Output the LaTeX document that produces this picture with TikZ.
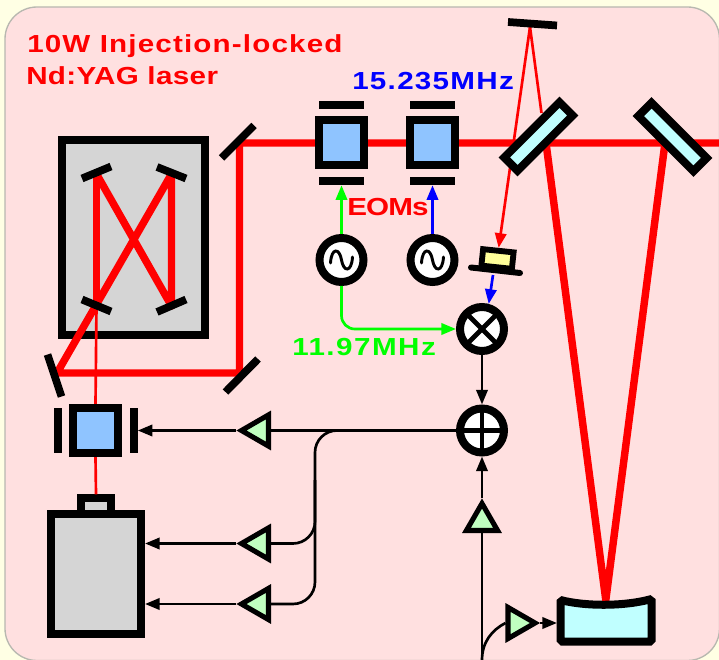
\documentclass[tikz,border=0pt]{standalone}
\usepackage{fontspec}
\setmainfont{Liberation Sans}
\newcommand{\labspaced}[1]{\fontspec[FakeStretch=1.2,LetterSpace=#1]{Liberation Sans Bold}}
\usetikzlibrary{arrows.meta,shapes.geometric}
\definecolor{cream}{HTML}{FFFFE4}
\definecolor{pinkbg}{HTML}{FFE0E0}
\definecolor{edgegray}{HTML}{B8B8B0}
\definecolor{eomblue}{HTML}{8FC4FF}
\definecolor{ampgreen}{HTML}{C0FFC0}
\definecolor{cyanfill}{HTML}{C0FFFF}
\definecolor{boxgray}{HTML}{D5D5D5}
\definecolor{pdyellow}{HTML}{FFFF99}
\definecolor{sigreen}{HTML}{00FF00}
\tikzset{
  x=0.75pt,y=-0.75pt,
  tipbig/.tip={Triangle[length=11pt,width=8.5pt]},
  wire/.style={line width=2pt,draw=black},
  sigarrow/.style={line width=2pt,-tipbig},
  beam/.style={draw=red,line width=5.6pt,line join=round},
  ray/.style={draw=red,line width=2pt},
  mirrorbar/.style={draw=black,line width=5.8pt},
  eombox/.style={draw=black,fill=eomblue,line width=6pt,rectangle,minimum size=33.75pt,inner sep=0pt},
  plateh/.style={fill=black,rectangle,minimum width=33.75pt,minimum height=6pt,inner sep=0pt},
  platev/.style={fill=black,rectangle,minimum width=6pt,minimum height=33.75pt,inner sep=0pt},
  roundel/.style={draw=black,fill=white,line width=6pt,circle,minimum size=33pt,inner sep=0pt},
  amp/.style={draw=black,fill=ampgreen,line width=3.8pt,regular polygon,regular polygon sides=3,minimum size=27pt,inner sep=0pt},
  glass/.style={draw=black,fill=cyanfill,line width=6pt,rectangle,minimum width=58.5pt,minimum height=14pt,inner sep=0pt,rotate=#1},
  label/.style={anchor=base west,inner sep=0pt},
  sine/.pic={\draw[line width=2.2pt,line cap=round] (-11,3) .. controls (-10,-13) and (-2,-12) .. (0,0) .. controls (2,12) and (10,13) .. (11,-3);}
}
\begin{document}
\begin{tikzpicture}
\useasboundingbox (0,0) rectangle (719,660);
\fill[cream] (0,0) rectangle (719,660);
\draw[fill=pinkbg,draw=edgegray,line width=1pt,rounded corners=24pt] (5,7) rectangle (719.5,660.5);

% cavity box
\node[draw=black,fill=boxgray,line width=6pt,rectangle,minimum width=107.25pt,minimum height=146.7pt,inner sep=0pt] (cavity) at (133.8,237.5) {};

% beam anchor points
\coordinate (m1) at (96.5,174);
\coordinate (m2) at (171.5,174);
\coordinate (m3) at (171.5,306);
\coordinate (m4) at (96.5,306);
\coordinate (f1) at (57,373);
\coordinate (f2) at (239.5,373);
\coordinate (f3) at (239.5,143);
\coordinate (bs) at (546,143);
\coordinate (hr) at (665,143);
\coordinate (outr) at (719,143);
\coordinate (cm) at (605.8,600);

% nodes
\node[eombox] (eoma) at (341.5,143) {};
\node[eombox] (eomb) at (432.5,143) {};
\node[eombox] (eomc) at (95.5,430.5) {};
\node[plateh] (pat) at (341.5,105) {};
\node[plateh] (pab) at (341.5,181) {};
\node[plateh] (pbt) at (432.5,105) {};
\node[plateh] (pbb) at (432.5,181) {};
\node[platev] (pcl) at (58,430.5) {};
\node[platev] (pcr) at (133.5,430.5) {};

\node[draw=black,fill=boxgray,line width=6pt,rectangle,minimum width=22.5pt,minimum height=11.6pt,inner sep=0pt] (nub) at (96,506) {};

% beams
\draw[ray] (m4) -- (eomc.north);
\draw[ray] (eomc.south) -- (nub.north);
\draw[beam] (m1) -- (m3) -- (m2) -- (f1) -- (f2) -- (f3) -- (outr);
\draw[beam] (m1) -- (m4);
\draw[beam] (bs) -- (cm) -- (hr);
\node[eombox] at (eoma) {};
\node[eombox] at (eomb) {};
\node[eombox] at (eomc) {};

% mirrors
\draw[mirrorbar] (82,178.5) -- (111,166.5);
\draw[mirrorbar] (157,167) -- (186,178.5);
\draw[mirrorbar] (82,299.5) -- (111,311.5);
\draw[mirrorbar] (186,299.5) -- (157,312);
\draw[mirrorbar] (254,125.5) -- (221.5,158);
\draw[mirrorbar] (258,359) -- (225.5,392);
\draw[mirrorbar] (47.5,354.5) -- (61.5,396.5);

\node[draw=black,fill=boxgray,line width=6pt,rectangle,minimum width=67.5pt,minimum height=90.6pt,inner sep=0pt] (laser) at (96,574) {};

% pick-off
\coordinate (tm) at (530,27);
\node[draw=black,fill=pdyellow,line width=4.4pt,rectangle,minimum width=23pt,minimum height=12.4pt,inner sep=0pt,rotate=-6] (pd) at (497.5,259) {};
\draw[line width=4.5pt,line cap=round] (471,267.5) -- (520,273);
\coordinate (pdb) at (493,275);
\draw[ray] (tm) -- (541.5,113);
\draw[ray,-tipbig] (tm) -- (pd.north);
\draw[mirrorbar] (508,22) -- (557,25.5);
\node[glass=45] (bsm) at (538.5,136.5) {};
\node[glass=-45] (hrm) at (672.5,137) {};

% curved mirror
\draw[draw=black,fill=cyanfill,line width=6pt,line join=bevel] (560.5,600) .. controls (585,606.5) and (625,606.5) .. (651.5,599) -- (651.5,641.5) -- (560.5,641.5) -- cycle;
\coordinate (cmw) at (557,623);

% electronics
\node[roundel] (osca) at (341.5,260) {};
\node[roundel] (oscb) at (432.5,260) {};
\pic at (osca) {sine};
\pic at (oscb) {sine};
\node[roundel] (mix) at (482,329) {};
\node[roundel] (add) at (482,430.5) {};
\draw[line width=3.6pt] ([shift={(-11.5pt,-11.5pt)}]mix.center) -- ([shift={(11.5pt,11.5pt)}]mix.center);
\draw[line width=3.6pt] ([shift={(-11.5pt,11.5pt)}]mix.center) -- ([shift={(11.5pt,-11.5pt)}]mix.center);
\draw[line width=3.6pt] ([yshift=-16.5pt]add.center) -- ([yshift=16.5pt]add.center);
\draw[line width=3.6pt] ([xshift=-16.5pt]add.center) -- ([xshift=16.5pt]add.center);

\node[amp,shape border rotate=90] (ampa) at (259.5,430.5) {};
\node[amp,shape border rotate=90] (ampb) at (259.5,543.5) {};
\node[amp,shape border rotate=90] (ampc) at (259.5,604) {};
\node[amp] (ampv) at (482,521.5) {};
\node[amp,shape border rotate=270] (ampr) at (517,623) {};

% signal connectors
\draw[sigarrow,draw=sigreen] (osca.north) -- (pab.south);
\draw[sigarrow,draw=blue] (oscb.north) -- (pbb.south);
\draw[sigarrow,draw=sigreen,rounded corners=10pt] (osca.south) -- (osca.south |- mix.west) -- (mix.west);
\draw[line width=2pt,-tipbig,draw=blue] (pdb) -- (mix.75);
\draw[sigarrow] (mix.south) -- (add.north);
\draw[wire] (add.west) -- (ampa.east);
\draw[sigarrow] (ampa.west) -- (pcr.east);
\draw[wire,rounded corners=16.5pt] (add.west) -- (315,430.5) -- (315,604) -- (ampc.east);
\draw[wire,rounded corners=16.5pt] (315,480) -- (315,543.5) -- (ampb.east);
\draw[sigarrow] (ampb.west) -- (laser.east |- ampb.west);
\draw[sigarrow] (ampc.west) -- (laser.east |- ampc.west);
\coordinate (fb) at (482,660);
\draw[wire] (fb) -- (ampv.south);
\draw[sigarrow] (ampv.north) -- (add.south);
\draw[wire] (fb) .. controls (482,642) and (492,630) .. (ampr.west);
\draw[sigarrow] (ampr.east) -- (cmw);

% labels
\node[label,text=red,font=\fontsize{18.5pt}{20pt}\labspaced{4.7}] (t1) at (27,53) {10W Injection-locked};
\node[label,text=red,font=\fontsize{18.5pt}{20pt}\labspaced{1.5}] (t2) at (26,85) {Nd:YAG laser};
\node[label,text=blue,font=\fontsize{18.5pt}{20pt}\labspaced{5.2}] (t3) at (352,90) {15.235MHz};
\node[label,text=red,font=\fontsize{18.5pt}{20pt}\labspaced{-3.5}] (t4) at (347,215) {EOMs};
\node[label,text=sigreen,font=\fontsize{18.5pt}{20pt}\labspaced{6}] (t5) at (292,355) {11.97MHz};
\end{tikzpicture}
\end{document}
